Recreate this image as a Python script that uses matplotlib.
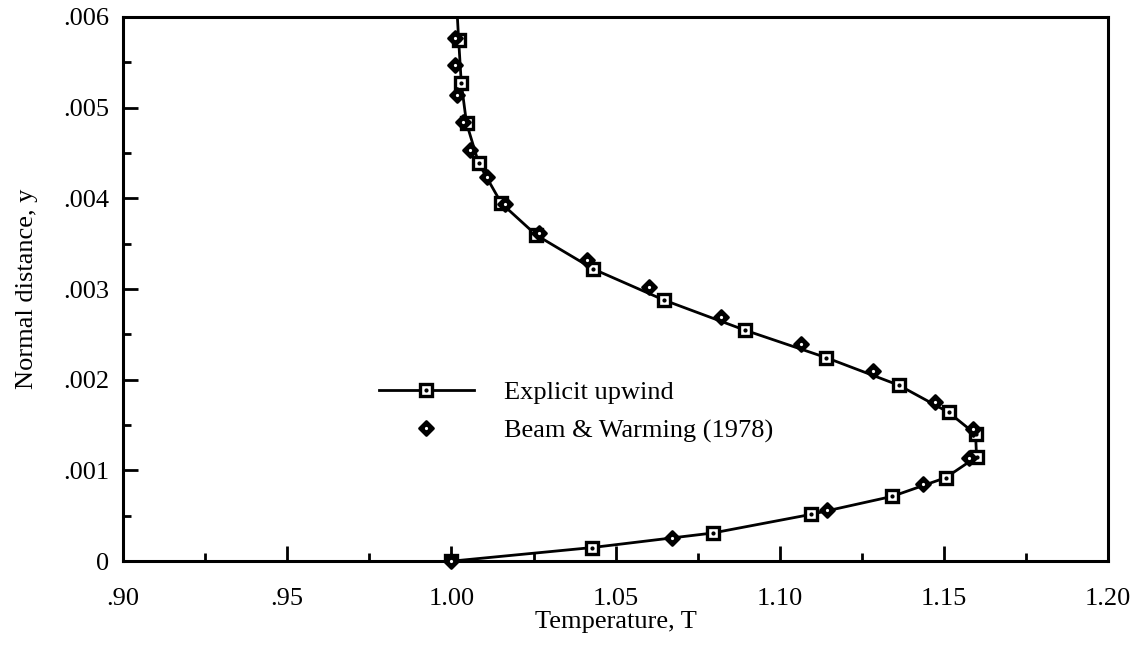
import matplotlib
matplotlib.use("Agg")
import matplotlib.pyplot as plt
from matplotlib.lines import Line2D
from matplotlib.markers import MarkerStyle
from matplotlib.ticker import MultipleLocator, FixedLocator

plt.rcParams["font.family"] = ["Liberation Serif", "DejaVu Serif"]
plt.rcParams["font.size"] = 19

# explicit upwind solution (connected, open squares)
upwind_T = [1.000, 1.0428, 1.0795, 1.1094, 1.1342, 1.1505, 1.1599, 1.1596, 1.1514, 1.1362,
            1.1140, 1.0894, 1.0648, 1.0432, 1.0258, 1.0152, 1.0083, 1.0046, 1.0030, 1.0022,
            1.0015]
upwind_y = [0.0, 0.00015, 0.00031, 0.000515, 0.000714, 0.00092, 0.00115, 0.0014, 0.00164, 0.00194,
            0.002245, 0.002546, 0.002877, 0.00322, 0.003595, 0.003945, 0.004386, 0.004828, 0.00527, 0.005747,
            0.0062]

# Beam & Warming (1978) reference points (diamonds only)
bw_T = [1.000, 1.0671, 1.1145, 1.1437, 1.1575, 1.1589, 1.1471, 1.1284, 1.1064, 1.082,
        1.0603, 1.0413, 1.0268, 1.0162, 1.0109, 1.0058, 1.0035, 1.0018, 1.001, 1.001]
bw_y = [0.0, 0.000254, 0.000567, 0.000847, 0.00114, 0.00146, 0.001755, 0.002097, 0.002392, 0.002693,
        0.003024, 0.003319, 0.003614, 0.003934, 0.004238, 0.004533, 0.004845, 0.00514, 0.005471, 0.005766]

x_ticks = [0.90, 0.95, 1.00, 1.05, 1.10, 1.15, 1.20]
x_ticklabels = [".90", ".95", "1.00", "1.05", "1.10", "1.15", "1.20"]
y_ticks = [0.0, 0.001, 0.002, 0.003, 0.004, 0.005, 0.006]
y_ticklabels = ["0", ".001", ".002", ".003", ".004", ".005", ".006"]

sq_style = dict(marker="s", ms=9, mfc="white", mec="black", mew=2.4)
dia_style = dict(marker=MarkerStyle("D", joinstyle="round"), ms=7,
                 mfc="black", mec="black", mew=2)

fig = plt.figure(figsize=(11.39, 6.48), dpi=100)
ax = fig.add_axes([0.108, 0.134, 0.865, 0.840])

ax.plot(upwind_T, upwind_y, color="black", lw=2, **sq_style, zorder=3)
ax.plot(upwind_T, upwind_y, ls="none", marker="o", ms=2, color="black", zorder=4)
ax.plot(bw_T, bw_y, ls="none", **dia_style, zorder=5, clip_on=False)
ax.plot(bw_T, bw_y, ls="none", marker="o", ms=2.3, color="white", mew=0, zorder=6, clip_on=False)

ax.set_xlim(0.90, 1.20)
ax.set_ylim(0.0, 0.006)
ax.xaxis.set_major_locator(FixedLocator(x_ticks))
ax.set_xticklabels(x_ticklabels)
ax.xaxis.set_minor_locator(MultipleLocator(0.025))
ax.yaxis.set_major_locator(FixedLocator(y_ticks))
ax.set_yticklabels(y_ticklabels)
ax.yaxis.set_minor_locator(MultipleLocator(0.0005))

ax.tick_params(which="both", direction="in", top=False, right=False, width=2)
ax.tick_params(which="major", length=11)
ax.tick_params(which="minor", length=6)
ax.tick_params(axis="x", pad=19)
ax.tick_params(axis="y", pad=10)
for s in ax.spines.values():
    s.set_linewidth(2.2)

ax.set_xlabel("Temperature, T", labelpad=1)
ax.set_ylabel("Normal distance, y", labelpad=18)

h_up = (Line2D([], [], color="black", lw=2, **sq_style),
        Line2D([], [], ls="none", marker="o", ms=2, color="black"))
h_bw = (Line2D([], [], ls="none", **dia_style),
        Line2D([], [], ls="none", marker="o", ms=2.3, color="white", mew=0))
ax.legend([h_up, h_bw], ["Explicit upwind", "Beam & Warming (1978)"],
          loc="upper left", bbox_to_anchor=(0.246, 0.356), frameon=False,
          borderpad=0, handlelength=3.6, handletextpad=1.17, labelspacing=0.56,
          numpoints=1)

fig.savefig("out.png", dpi=100)
